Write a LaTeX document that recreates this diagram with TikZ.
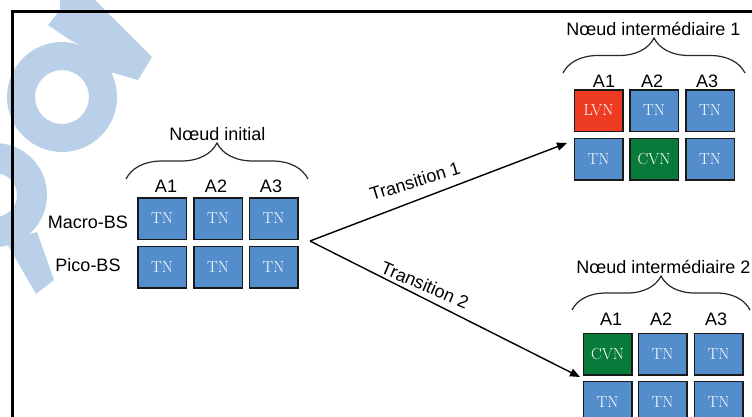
\documentclass[tikz,border=0pt]{standalone}
\usepackage{fontspec}
\newfontfamily\labelfont{Liberation Sans}
\usetikzlibrary{arrows.meta,decorations.pathreplacing}
\definecolor{cellblue}{RGB}{84,141,204}
\definecolor{cellred}{RGB}{238,60,35}
\definecolor{cellgreen}{RGB}{8,122,58}
\definecolor{wmblue}{RGB}{186,208,232}
\definecolor{bracegray}{RGB}{40,40,40}
\begin{document}
\begin{tikzpicture}[x=1pt,y=-1pt,
  cell/.style={draw=black!90, line width=1.5pt, fill=cellblue, minimum width=48.5pt,
    minimum height=41.5pt, inner sep=0pt, text=white, font=\fontsize{16}{18}\selectfont},
  lvn/.style={cell, fill=cellred},
  cvn/.style={cell, fill=cellgreen},
  lab/.style={inner sep=0pt, font=\labelfont\fontsize{18}{20}\selectfont},
  grp/.style={draw=bracegray, line width=1.2pt, decorate,
    decoration={brace, amplitude=#1}},
  conn/.style={draw, line width=1.4pt, -{Triangle[length=10pt,width=8pt]}}]
\useasboundingbox (0,0) rectangle (752,416);

% faint background mark
\fill[wmblue, even odd rule] (62,97) circle[radius=55] (62,97) circle[radius=27];
\fill[wmblue] (48,25) -- (60,10) -- (60,0) -- (95,0) -- (152,57) -- (138,80)
  -- (110,72) -- (80,45) -- (70,40) -- cycle;
\fill[wmblue, even odd rule] (-5,195) circle[radius=52] (-5,195) circle[radius=22];
\fill[wmblue] (5,240) -- (37,232) -- (54,280) -- (36,294) -- cycle;

% frame
\draw[line width=3pt] (12,420) -- (12,11.5) -- (756,11.5);

% initial node
\node[lab] (tinit) at (217.5,134) {Nœud initial};
\draw[grp=36pt] (126,179) -- (308,179);
\node[lab] (ia1) at (166,186) {A1};
\node[lab] (ia2) at (216,186) {A2};
\node[lab] (ia3) at (271,186) {A3};
\node[lab] (macro) at (88,222.5) {Macro-BS};
\node[lab] (pico) at (88,265) {Pico-BS};
\node[cell] (i11) at (162,218.5) {TN};
\node[cell] (i12) at (218,218.5) {TN};
\node[cell] (i13) at (273.5,218.5) {TN};
\node[cell] (i21) at (162,267) {TN};
\node[cell] (i22) at (218,267) {TN};
\node[cell] (i23) at (273.5,267) {TN};

% intermediate node 1
\node[lab] (tint1) at (653.5,29) {Nœud intermédiaire 1};
\draw[grp=35pt] (563,73) -- (745,73);
\node[lab] (aa1) at (604,81) {A1};
\node[lab] (aa2) at (652,81) {A2};
\node[lab] (aa3) at (707,81) {A3};
\node[lvn] (a11) at (598.5,110.5) {LVN};
\node[cell] (a12) at (654,110.5) {TN};
\node[cell] (a13) at (710,110.5) {TN};
\node[cell] (a21) at (598.5,159) {TN};
\node[cvn] (a22) at (654,159) {CVN};
\node[cell] (a23) at (710,159) {TN};

% intermediate node 2
\node[lab] (tint2) at (663.5,267) {Nœud intermédiaire 2};
\draw[grp=34pt] (572,310) -- (750,310);
\node[lab] (ba1) at (611,319) {A1};
\node[lab] (ba2) at (661,319) {A2};
\node[lab] (ba3) at (716,319) {A3};
\node[cvn] (b11) at (607.5,354) {CVN};
\node[cell] (b12) at (662.5,354) {TN};
\node[cell] (b13) at (718.5,354) {TN};
\node[cell] (b21) at (607.5,402) {TN};
\node[cell] (b22) at (662.5,402) {TN};
\node[cell] (b23) at (718.5,402) {TN};

% transitions
\coordinate (fork) at (310,241);
\coordinate (t1end) at (567,143);
\coordinate (t2end) at (580,377);
\draw[conn] (fork) -- (t1end);
\draw[conn] (fork) -- (t2end);
\node[lab, rotate=17] (tr1) at (415,181) {Transition 1};
\node[lab, rotate=-23] (tr2) at (425,285) {Transition 2};
\end{tikzpicture}
\end{document}
